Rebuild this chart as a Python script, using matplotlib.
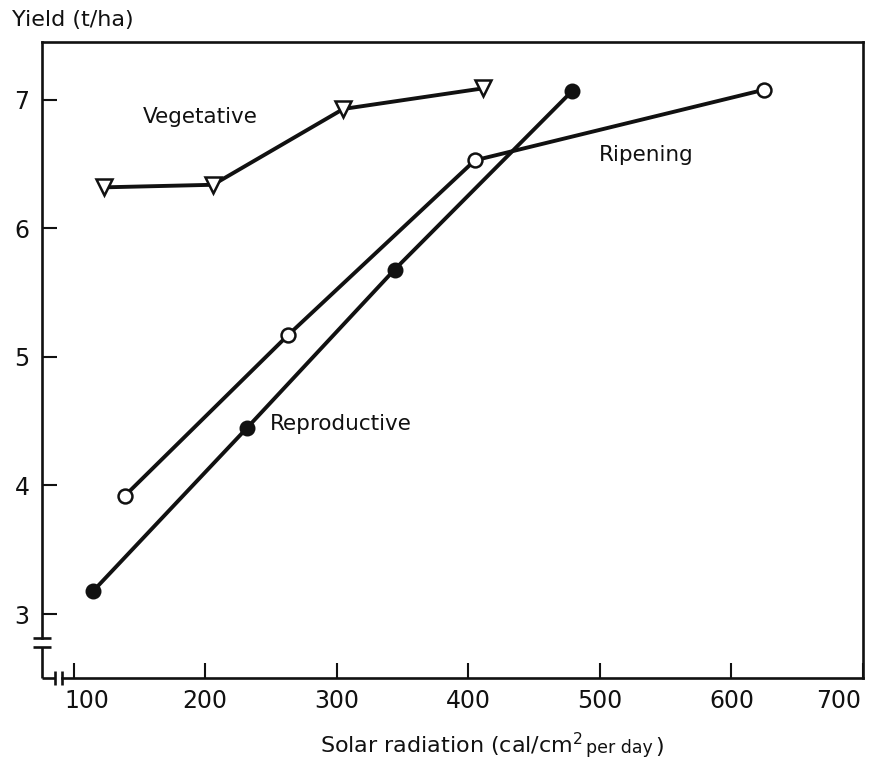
import matplotlib
matplotlib.use("Agg")
import matplotlib.pyplot as plt
from matplotlib.lines import Line2D
from matplotlib.transforms import ScaledTranslation
from matplotlib.offsetbox import TextArea, HPacker, AnchoredOffsetbox

# Yield response to solar radiation in three growth stages
veg_x = [123, 206, 305, 411]
veg_y = [6.32, 6.34, 6.93, 7.09]

rep_x = [115, 232, 344, 479]
rep_y = [3.18, 4.45, 5.68, 7.07]

rip_x = [139, 263, 405, 625]
rip_y = [3.92, 5.17, 6.53, 7.08]

x_ticks = [100, 200, 300, 400, 500, 600, 700]
y_ticks = [3, 4, 5, 6, 7]

W, H = 872, 758
fig = plt.figure(figsize=(W / 100, H / 100), dpi=100)
ax = fig.add_axes([42 / W, 1 - 678 / H, (863 - 42) / W, (678 - 42) / H])

XMIN, XMAX = 76, 700
YMIN, YMAX = 2.502, 7.451
ax.set_xlim(XMIN, XMAX)
ax.set_ylim(YMIN, YMAX)

ink = "#111111"
lw = 2.8

ax.plot(veg_x, veg_y, color=ink, lw=lw, marker="v", ms=11, mfc="white",
        mec=ink, mew=1.8, zorder=3)
ax.plot(rep_x, rep_y, color=ink, lw=lw, marker="o", ms=10, mfc=ink,
        mec=ink, mew=1.5, zorder=3)
ax.plot(rip_x, rip_y, color=ink, lw=lw, marker="o", ms=10, mfc="white",
        mec=ink, mew=1.8, zorder=4)

fs_lab = 15.5
ax.text(196, 6.87, "Vegetative", fontsize=fs_lab, ha="center", va="center", color=ink)
ax.text(303, 4.48, "Reproductive", fontsize=fs_lab, ha="center", va="center", color=ink)
ax.text(535, 6.57, "Ripening", fontsize=fs_lab, ha="center", va="center", color=ink)

# frame: top/right full, left/bottom with axis breaks
spw = 1.9
for s in ("top", "right"):
    ax.spines[s].set_linewidth(spw)
    ax.spines[s].set_color(ink)
y_cap_hi = 2.813
y_cap_lo = 2.743
x_bar_lo = 86.0
x_bar_hi = 91.3
ax.spines["left"].set_bounds(y_cap_hi, YMAX)
ax.spines["bottom"].set_bounds(x_bar_hi, XMAX)
for s in ("left", "bottom"):
    ax.spines[s].set_linewidth(spw)
    ax.spines[s].set_color(ink)

def seg(xs, ys):
    ax.add_line(Line2D(xs, ys, color=ink, lw=spw, clip_on=False,
                       solid_capstyle="butt", zorder=5))

dx_cap = 6.5   # half-width of y-break caps in data units
dy_bar = 0.055  # half-height of x-break bars in data units
seg([XMIN, XMIN], [YMIN, y_cap_lo])
seg([XMIN - dx_cap, XMIN + dx_cap], [y_cap_hi, y_cap_hi])
seg([XMIN - dx_cap, XMIN + dx_cap], [y_cap_lo, y_cap_lo])
seg([XMIN, x_bar_lo], [YMIN, YMIN])
seg([x_bar_lo, x_bar_lo], [YMIN - dy_bar, YMIN + dy_bar])
seg([x_bar_hi, x_bar_hi], [YMIN - dy_bar, YMIN + dy_bar])

ax.set_xticks(x_ticks)
ax.set_yticks(y_ticks)
ax.tick_params(direction="in", length=11, width=1.5, colors=ink,
               labelsize=17)
ax.tick_params(axis="y", pad=9)
ax.tick_params(axis="x", pad=8)
xlabels = ax.get_xticklabels()
xlabels[0].set_transform(xlabels[0].get_transform() + ScaledTranslation(0.13, 0, fig.dpi_scale_trans))
xlabels[-1].set_transform(xlabels[-1].get_transform() + ScaledTranslation(-0.24, 0, fig.dpi_scale_trans))

fig.text(12 / W, 1 - 20 / H, "Yield (t/ha)", fontsize=16, ha="left",
         va="center", color=ink)

# x-axis title with smaller "per day"
parts = [
    TextArea("Solar radiation (cal/cm$^{2}$", textprops=dict(fontsize=16, color=ink)),
    TextArea("per day", textprops=dict(fontsize=12.5, color=ink)),
    TextArea(")", textprops=dict(fontsize=16, color=ink)),
]
box = HPacker(children=parts, align="baseline", pad=0, sep=2)
anch = AnchoredOffsetbox(loc="center", child=box, pad=0, frameon=False,
                         bbox_to_anchor=(492 / W, 1 - 745 / H),
                         bbox_transform=fig.transFigure, borderpad=0)
fig.add_artist(anch)

fig.savefig("out.png", dpi=100, facecolor="white")
